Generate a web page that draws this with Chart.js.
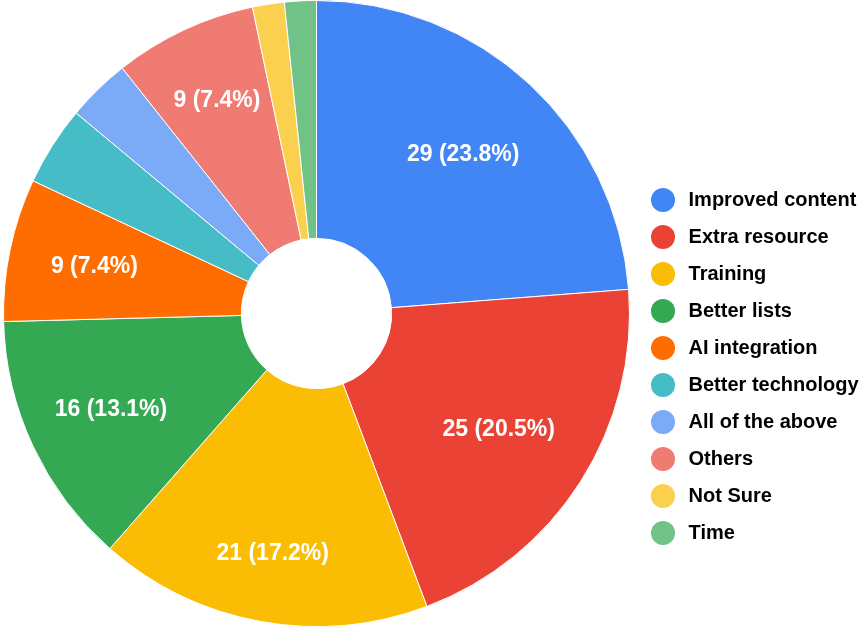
<!DOCTYPE html>
<html>
<head>
<meta charset="utf-8">
<script src="https://cdn.jsdelivr.net/npm/chart.js@4/dist/chart.umd.min.js"></script>
<style>
  html, body { margin: 0; padding: 0; background: #fff; }
  #wrap { width: 860px; height: 627px; position: relative; }
</style>
</head>
<body>
<div id="wrap"><canvas id="myChart"></canvas></div>
<script>
const categories = [
    'Improved content', 'Extra resource', 'Training', 'Better lists', 'AI integration',
    'Better technology', 'All of the above', 'Others', 'Not Sure', 'Time'
];
const responses = [29, 25, 21, 16, 9, 5, 4, 9, 2, 2];
const sliceColors = [
    '#4285F4', '#EA4335', '#FBBC04', '#34A853', '#FF6D01',
    '#46BDC6', '#7BAAF7', '#F07B72', '#FCD04F', '#71C287'
];
// how far out (share of the outer radius) each slice's label sits
const labelDepth = [0.69, 0.69, 0.78, 0.725, 0.725, 0.75, 0.75, 0.75, 0.75, 0.75];

const fontFamily = "Arial, 'Liberation Sans', Helvetica, sans-serif";
const total = responses.reduce((a, b) => a + b, 0);

// fixed legend column, nudged to sit a bit lower than centre
const legendPlacement = {
    id: 'legendPlacement',
    beforeInit(chart) {
        const fit = chart.legend.fit;
        chart.legend.fit = function() {
            fit.bind(chart.legend)();
            this.width = 227;
        };
    },
    afterLayout(chart) {
        const lg = chart.legend;
        lg.left += 3; lg.right += 3;
        lg.top += 53; lg.bottom += 53;
    }
};

// "count (pct%)" written inside the larger slices
const sliceLabels = {
    id: 'sliceLabels',
    afterDatasetsDraw(chart) {
        const ctx = chart.ctx;
        const meta = chart.getDatasetMeta(0);
        ctx.save();
        ctx.fillStyle = '#ffffff';
        ctx.font = 'bold 23px ' + fontFamily;
        ctx.textAlign = 'center';
        ctx.textBaseline = 'middle';
        meta.data.forEach((arc, i) => {
            const v = responses[i];
            if (v / total < 0.05) return;
            const p = arc.getProps(['x', 'y', 'startAngle', 'endAngle', 'outerRadius']);
            const mid = (p.startAngle + p.endAngle) / 2;
            const r = p.outerRadius * labelDepth[i];
            const pct = (v / total * 100).toFixed(1);
            ctx.fillText(v + ' (' + pct + '%)', p.x + Math.cos(mid) * r, p.y + Math.sin(mid) * r);
        });
        ctx.restore();
    }
};

const myChart = new Chart(document.getElementById('myChart'), {
    type: 'doughnut',
    data: {
        labels: categories,
        datasets: [{
            data: responses,
            backgroundColor: sliceColors,
            borderColor: '#ffffff',
            borderWidth: 1
        }]
    },
    options: {
        responsive: true,
        maintainAspectRatio: false,
        animation: false,
        events: [],
        cutout: '24%',
        layout: { padding: 0 },
        plugins: {
            tooltip: { enabled: false },
            legend: {
                position: 'right',
                labels: {
                    usePointStyle: true,
                    pointStyle: 'circle',
                    boxHeight: 17,
                    padding: 17,
                    color: '#222222',
                    font: { family: fontFamily, size: 20, weight: 'bold' },
                    generateLabels(chart) {
                        return categories.map((name, i) => ({
                            text: ' ' + name,
                            fillStyle: sliceColors[i],
                            strokeStyle: sliceColors[i],
                            lineWidth: 0,
                            pointStyle: 'circle',
                            hidden: false,
                            index: i
                        }));
                    }
                }
            }
        }
    },
    plugins: [legendPlacement, sliceLabels]
});
</script>
</body>
</html>
